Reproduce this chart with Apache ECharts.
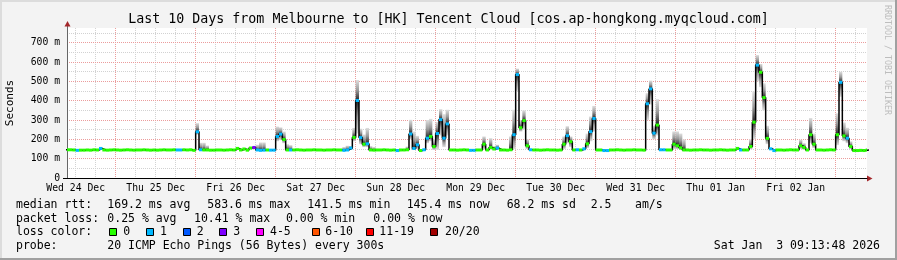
<!DOCTYPE html>
<html><head><meta charset="utf-8">
<script src="https://cdn.jsdelivr.net/npm/echarts@6/dist/echarts.min.js"></script>
<style>html,body{margin:0;padding:0;background:#f3f3f3;}#c{width:897px;height:260px;}</style>
</head><body><div id="c"></div>
<script>
// ---------------- data (x = hours since Wed 24 Dec 00:00) ----------------
const TITLE = 'Last 10 Days from Melbourne to [HK] Tencent Cloud [cos.ap-hongkong.myqcloud.com]';
const dayLabels = ['Wed 24 Dec','Thu 25 Dec','Fri 26 Dec','Sat 27 Dec','Sun 28 Dec','Mon 29 Dec','Tue 30 Dec','Wed 31 Dec','Thu 01 Jan','Fri 02 Jan'];
const yTickValues = [0,100,200,300,400,500,600,700];
const yMinorValues = [50,150,250,350,450,550,650,750];
const X_START = 9.4, X_END = 249.4, Y_MAX = 776;
const firstHour = 9;
// hourly median rtt (ms), h9 .. h249
const median = [
 146,146,145,143,144,144,145,144,146,145,153,145,144,145,146,
 145,144,145,146,145,144,145,145,146,145,144,145,144,145,146,145,145,146,145,145,146,145,146,143,
 239,146,145,145,144,144,145,145,144,145,146,145,153,145,150,144,155,158,145,143,144,145,144,144,
 215,227,199,145,145,145,146,145,144,145,145,146,145,145,144,145,145,146,145,145,143,145,155,210,
 401,209,175,177,145,144,145,145,146,145,144,145,142,145,145,146,228,153,172,142,146,206,215,163,
 230,302,206,280,145,145,144,145,146,145,143,143,145,145,175,145,158,150,155,145,145,144,146,224,
 535,260,297,167,146,145,145,144,145,146,145,145,144,145,175,219,188,145,146,145,151,177,240,308,
 145,145,142,142,145,145,146,145,144,145,145,146,145,145,144,384,461,232,274,146,146,145,145,175,
 167,156,145,145,144,145,145,146,145,145,144,145,145,146,145,144,145,145,153,145,145,145,163,289,
 584,547,416,205,151,142,145,145,144,145,146,145,145,167,158,145,224,175,145,145,144,145,146,145,
 224,495,218,206,163,142,142,143,142,145
];
// pings lost (of 20) per hour
const loss = [
 0,0,0,1,0,0,0,0,0,0,1,0,0,0,0,
 0,0,0,0,0,0,0,0,0,0,0,0,0,0,0,0,0,0,1,1,0,0,0,0,
 1,1,0,0,0,0,0,0,0,0,0,0,0,0,0,0,0,3,1,1,1,0,1,1,
 1,1,0,0,1,0,0,0,0,0,0,0,0,0,0,0,0,0,0,0,1,1,1,0,
 1,1,0,1,0,0,0,0,0,0,0,0,1,0,0,0,1,1,1,0,1,1,0,0,
 1,1,1,1,0,0,0,0,0,0,1,1,0,0,0,0,0,0,1,0,0,0,0,1,
 1,0,0,0,1,0,0,0,0,0,0,0,0,0,0,1,0,0,1,0,1,0,1,1,
 0,0,1,1,0,0,0,0,0,0,0,0,0,0,0,1,1,1,0,1,1,0,0,0,
 0,0,0,0,0,0,0,0,0,0,0,0,0,0,0,0,0,0,0,1,0,0,0,0,
 1,0,0,0,1,1,0,0,0,0,0,0,0,0,0,0,0,0,0,0,0,0,0,0,
 0,1,0,1,0,0,0,0,0,0
];
// smoke (spread of the 20 pings) where visible
const smokeHours = [11,19,48,49,50,51,65,66,67,68,72,73,74,75,76,92,93,94,95,96,97,98,99,100,101,111,112,113,114,117,118,119,120,121,122,123,134,136,137,138,142,143,144,145,146,147,158,159,160,165,166,167,183,184,185,186,191,192,193,194,214,215,216,217,218,219,229,230,232,233,240,241,242,243,244];
const smokeHi = [152,157,284,182,182,168,165,172,184,184,266,262,240,175,170,160,167,165,259,507,255,225,259,165,160,163,301,240,218,300,306,200,290,356,330,353,215,206,165,172,215,353,566,300,350,200,215,268,215,230,318,373,439,504,270,408,241,241,230,200,200,447,636,590,490,270,198,180,310,230,335,550,287,260,190];
const smokeLo = [144,146,224,144,144,144,150,143,143,143,190,195,180,144,143,142,142,145,190,230,175,160,160,143,143,144,200,145,150,180,190,145,146,220,160,220,150,146,145,146,144,150,450,240,250,150,150,180,160,155,190,240,300,380,200,220,150,150,145,144,148,200,500,470,350,175,150,146,180,155,170,420,190,180,150];
const lossColors = ['#26ff00','#00b8ff','#0059ff','#7e00ff','#ff00ff','#ff5500','#ff0000','#a10000'];
const lossLabels = ['0','1','2','3','4-5','6-10','11-19','20/20'];
const rttStats = ['169.2 ms avg','583.6 ms max','141.5 ms min','145.4 ms now','68.2 ms sd','2.5','am/s'];
const lossStats = ['0.25 % avg','10.41 % max','0.00 % min','0.00 % now'];
const probeText = '20 ICMP Echo Pings (56 Bytes) every 300s';
const stampText = 'Sat Jan  3 09:13:48 2026';

// ---------------- layout ----------------
const FONT = '"DejaVu Sans Mono", monospace';
const GRID = {left:67, top:28, width:800, height:150};
function lossIndex(l){ if(l<=3) return l; if(l<=5) return 4; if(l<=10) return 5; if(l<=19) return 6; return 7; }
const hours = median.map((_, i) => firstHour + i);
const majorX = [], minorX = [], labelX = [];
for (let h = 24; h < X_END; h += 24) majorX.push(h);
for (let h = 12; h < X_END; h += 6) if (h % 24) minorX.push(h);
dayLabels.forEach((_, i) => labelX.push(12 + 24 * i));

const chart = echarts.init(document.getElementById('c'), null, {renderer:'canvas', devicePixelRatio:1});
const clipTo = p => ({x:p.coordSys.x, y:p.coordSys.y, width:p.coordSys.width, height:p.coordSys.height});

const graphics = [];
// frame
graphics.push({type:'rect', shape:{x:0,y:0,width:897,height:2}, style:{fill:'#dcdcdc'}, silent:true});
graphics.push({type:'rect', shape:{x:0,y:0,width:2,height:260}, style:{fill:'#dcdcdc'}, silent:true});
graphics.push({type:'rect', shape:{x:0,y:258,width:897,height:2}, style:{fill:'#a0a0a0'}, silent:true});
graphics.push({type:'rect', shape:{x:895,y:0,width:2,height:260}, style:{fill:'#a0a0a0'}, silent:true});
// title etc.
graphics.push({type:'text', x:448.5, y:19.5, style:{text:TITLE, fontFamily:FONT, fontSize:13.3, fill:'#000', align:'center', verticalAlign:'middle'}, silent:true});
graphics.push({type:'text', x:10, y:103, rotation:Math.PI/2, style:{text:'Seconds', fontFamily:FONT, fontSize:11, fill:'#000', align:'center', verticalAlign:'middle'}, silent:true});
graphics.push({type:'text', x:887, y:60, rotation:-Math.PI/2, style:{text:'RRDTOOL / TOBI OETIKER', fontFamily:FONT, fontSize:8.3, fill:'#bdbdbd', align:'center', verticalAlign:'middle'}, silent:true});
// axis arrows
graphics.push({type:'line', shape:{x1:67.5,y1:25,x2:67.5,y2:28}, style:{stroke:'#666',lineWidth:1}, silent:true});
graphics.push({type:'polygon', shape:{points:[[64.5,26.5],[70.5,26.5],[67.5,21]]}, style:{fill:'#a3262a'}, silent:true});
graphics.push({type:'line', shape:{x1:63,y1:178.5,x2:67,y2:178.5}, style:{stroke:'#000',lineWidth:1}, silent:true});
graphics.push({type:'polygon', shape:{points:[[867,175.5],[867,181.5],[872.5,178.5]]}, style:{fill:'#a3262a'}, silent:true});
// legend rows
const ROWY = [205.5, 219, 232.5, 246.2];
const txt = (x, y, s, extra) => graphics.push({type:'text', x, y, style:Object.assign({text:s, fontFamily:FONT, fontSize:11.5, fill:'#000', align:'left', verticalAlign:'middle'}, extra||{}), silent:true});
txt(16, ROWY[0], 'median rtt:');
[107.3,207.3,307.3,406.7,506.7,590.7,635].forEach((x,i)=>txt(x, ROWY[0], rttStats[i]));
txt(16, ROWY[1], 'packet loss:');
[107.3,194,286,373.3].forEach((x,i)=>txt(x, ROWY[1], lossStats[i]));
txt(16, ROWY[2], 'loss color:');
const boxX = [109.3,146,182.7,219.3,256,312,366,430];
const boxLabelX = [123.3,160,196.7,233.3,270,325.3,379.3,445];
lossColors.forEach((c,i)=>{
  graphics.push({type:'rect', shape:{x:Math.round(boxX[i])+0.5, y:228.5, width:7, height:7}, style:{fill:c, stroke:'#000', lineWidth:1}, silent:true});
  txt(boxLabelX[i], ROWY[2], lossLabels[i]);
});
txt(16, ROWY[3], 'probe:');
txt(107.3, ROWY[3], probeText);
txt(880, ROWY[3], stampText, {align:'right'});

const smokeData = smokeHours.map((h,i)=>[h, smokeHi[i], smokeLo[i], median[h-firstHour]]);
const medData = hours.map((h,i)=>[h, median[i], loss[i]||0]);
const lineData = hours.map((h,i)=>[h, median[i]]).concat([[firstHour+median.length, median[median.length-1]]]);

const option = {
  backgroundColor:'#f3f3f3',
  animation:false,
  grid:{left:GRID.left, top:GRID.top, width:GRID.width, height:GRID.height, show:true, backgroundColor:'#ffffff', borderWidth:0, containLabel:false},
  xAxis:[
    {type:'value', position:'bottom', min:X_START, max:X_END, z:2,
     axisLine:{show:true, onZero:false, lineStyle:{color:'#000', width:1}},
     axisTick:{show:true, customValues:majorX, length:0, lineStyle:{color:'rgba(0,0,0,0)'}},
     axisLabel:{show:true, customValues:labelX, margin:5, fontFamily:FONT, fontSize:9.75, color:'#000',
       formatter: v => dayLabels[Math.round((v-12)/24)] || ''},
     splitLine:{show:true, lineStyle:{color:'#eb9c9c', width:1, type:[1,1]}}},
    {type:'value', position:'top', min:X_START, max:X_END, z:1,
     axisLine:{show:false}, axisLabel:{show:false},
     axisTick:{show:true, customValues:minorX, length:0, lineStyle:{color:'rgba(0,0,0,0)'}},
     splitLine:{show:true, lineStyle:{color:'#d2d2d2', width:1, type:[1,1]}}}
  ],
  yAxis:[
    {type:'value', position:'left', min:0, max:Y_MAX, z:2,
     axisLine:{show:true, lineStyle:{color:'#666', width:1}},
     axisTick:{show:true, customValues:yTickValues, length:0, lineStyle:{color:'rgba(0,0,0,0)'}},
     axisLabel:{show:true, customValues:yTickValues, margin:7, fontFamily:FONT, fontSize:9.75, color:'#000',
       formatter: v => v === 0 ? '0' : v + ' m'},
     splitLine:{show:true, lineStyle:{color:'#eb9c9c', width:1, type:[1,1]}}},
    {type:'value', position:'right', min:0, max:Y_MAX, z:1,
     axisLine:{show:false}, axisLabel:{show:false},
     axisTick:{show:true, customValues:yMinorValues, length:0, lineStyle:{color:'rgba(0,0,0,0)'}},
     splitLine:{show:true, lineStyle:{color:'#d2d2d2', width:1, type:[1,1]}}}
  ],
  series:[
    {type:'custom', name:'smoke', xAxisIndex:0, yAxisIndex:0, z:3, silent:true,
     data:smokeData, encode:{x:0, y:[1,2]},
     renderItem:(params, api)=>{
       const h=api.value(0), hi=api.value(1), lo=api.value(2), med=api.value(3);
       const a=api.coord([h,hi]), b=api.coord([h+1,lo]), m=api.coord([h,med]);
       const r = echarts.graphic.clipRectByRect({x:a[0], y:a[1], width:b[0]-a[0], height:Math.max(1,b[1]-a[1])}, clipTo(params));
       if(!r) return null;
       let t = (m[1]-a[1])/Math.max(1,(b[1]-a[1])); t = Math.min(1, Math.max(0, t));
       return {type:'rect', shape:r, style:{fill:{type:'linear', x:0, y:0, x2:0, y2:1, colorStops:[
         {offset:0, color:'#dedede'}, {offset:t*0.5, color:'#9a9a9a'}, {offset:t, color:'#222222'},
         {offset:t+(1-t)*0.5, color:'#9a9a9a'}, {offset:1, color:'#dedede'}]}}};
     }},
    {type:'line', name:'median', xAxisIndex:0, yAxisIndex:0, z:4, silent:true, step:'end', symbol:'none',
     data:lineData, lineStyle:{color:'#000', width:1.5}},
    {type:'custom', name:'loss', xAxisIndex:0, yAxisIndex:0, z:5, silent:true,
     data:medData, encode:{x:0, y:1},
     renderItem:(params, api)=>{
       const h=api.value(0), v=api.value(1), l=api.value(2);
       const a=api.coord([h,v]), b=api.coord([h+1,v]);
       const r = echarts.graphic.clipRectByRect({x:a[0], y:a[1]-1.5, width:b[0]-a[0], height:3}, clipTo(params));
       if(!r) return null;
       return {type:'rect', shape:r, style:{fill:lossColors[lossIndex(l)]}};
     }}
  ],
  graphic:{elements:graphics}
};
chart.setOption(option);
</script></body></html>
